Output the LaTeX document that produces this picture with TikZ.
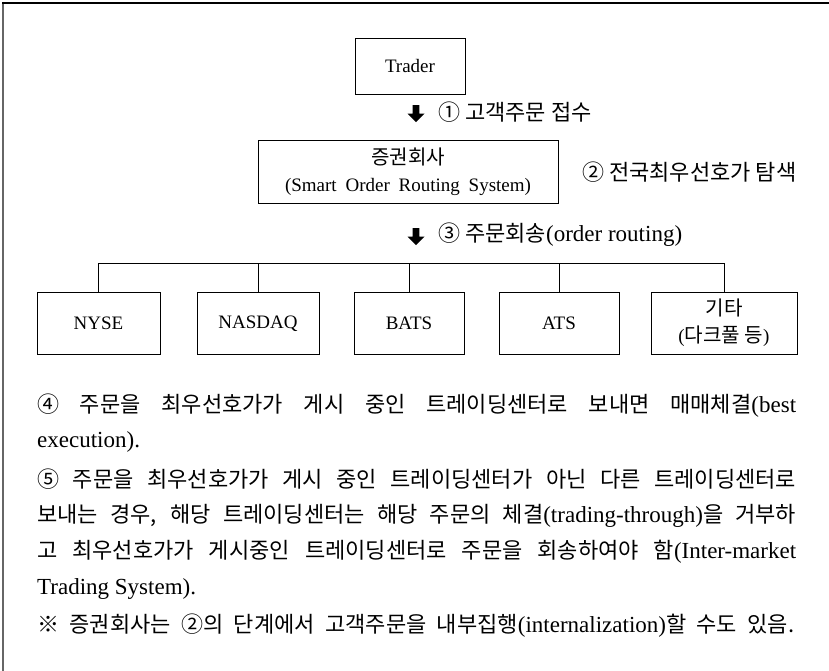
\documentclass[tikz,border=0pt]{standalone}
\usepackage{fontspec}
\setmainfont{Liberation Serif}
\newfontfamily\krf{Noto Sans CJK KR}[Scale=0.957]
\newcommand\ko[1]{{\krf #1}}
\newcommand\kobox[1]{{\fontsize{21}{27}\selectfont\krf #1}}
\usetikzlibrary{shapes.arrows}
\tikzset{
  box/.style={draw, line width=0.9pt, inner sep=0pt, align=center, font=\fontsize{19}{27}\selectfont},
  dnarrow/.style={single arrow, fill=black, draw=none, shape border rotate=270, minimum height=17pt, minimum width=17pt, inner sep=3pt, single arrow head extend=5pt, single arrow head indent=0pt},
  steplabel/.style={anchor=west, inner sep=0pt, font=\fontsize{23}{28}\selectfont},
  bodyline/.style={anchor=west, inner sep=0pt, font=\fontsize{23}{28}\selectfont},
  wire/.style={line width=0.9pt}
}
\begin{document}
\begin{tikzpicture}[x=1pt,y=-1pt]
\useasboundingbox (0,0) rectangle (829,671);
\fill[white] (0,0) rectangle (829,671);
% frame
\draw[black!60, line width=2pt] (3,2) -- (3,671);
\draw[line width=2.6pt] (2,3) -- (829,3);
% boxes
\node[box, minimum width=110pt, minimum height=56pt] (trader) at (410,66) {Trader};
\node[box, minimum width=300pt, minimum height=63pt] (sor) at (408,172) {\kobox{증권회사}\\\makebox[246pt][s]{(Smart Order Routing System)}};
\node[box, minimum width=123pt, minimum height=62pt] (nyse) at (98.5,323) {NYSE};
\node[box, minimum width=122pt, minimum height=62pt] (nasdaq) at (258,323) {NASDAQ\strut};
\node[box, minimum width=110pt, minimum height=62pt] (bats) at (409,323) {BATS};
\node[box, minimum width=120pt, minimum height=62pt] (ats) at (559,323) {ATS};
\node[box, minimum width=146pt, minimum height=62pt] (etc) at (724,323) {\kobox{기타}\\(\kobox{다크풀 등})};
% step arrows and labels
\node[dnarrow] (a1) at (416,112) {};
\node[steplabel] (l1) at (438,112) {\ko{① 고객주문 접수}};
\node[steplabel] (l2) at (582,172) {\ko{② 전국최우선호가 탐색}};
\node[dnarrow] (a3) at (416,235) {};
\node[steplabel] (l3) at (438,235) {\ko{③ 주문회송}(order routing)};
% bus
\coordinate (bus) at (0,263);
\draw[wire] (nyse.north) -- (nyse.north |- bus) -- (etc.north |- bus) -- (etc.north);
\draw[wire] (nasdaq.north) -- (nasdaq.north |- bus);
\draw[wire] (bats.north) -- (bats.north |- bus);
\draw[wire] (ats.north) -- (ats.north |- bus);
% body text
\node[bodyline] (t1) at (37,406) {\makebox[759pt][s]{\ko{④} \ko{주문을} \ko{최우선호가가} \ko{게시} \ko{중인} \ko{트레이딩센터로} \ko{보내면} \ko{매매체결}(best}};
\node[bodyline] (t2) at (37,442) {execution).};
\node[bodyline] (t3) at (37,479) {\makebox[759pt][s]{\ko{⑤} \ko{주문을} \ko{최우선호가가} \ko{게시} \ko{중인} \ko{트레이딩센터가} \ko{아닌} \ko{다른} \ko{트레이딩센터로}}};
\node[bodyline] (t4) at (37,516) {\makebox[759pt][s]{\ko{보내는} \ko{경우,} \ko{해당} \ko{트레이딩센터는} \ko{해당} \ko{주문의} \ko{체결}(trading-through)\ko{을} \ko{거부하}}};
\node[bodyline] (t5) at (37,552) {\makebox[759pt][s]{\ko{고} \ko{최우선호가가} \ko{게시중인} \ko{트레이딩센터로} \ko{주문을} \ko{회송하여야} \ko{함}(Inter-market}};
\node[bodyline] (t6) at (37,589) {Trading System).};
\node[bodyline] (t7) at (37,626) {\makebox[757pt][s]{\ko{※} \ko{증권회사는} \ko{②의} \ko{단계에서} \ko{고객주문을} \ko{내부집행}(internalization)\ko{할} \ko{수도} \ko{있음.}}};
\end{tikzpicture}
\end{document}
